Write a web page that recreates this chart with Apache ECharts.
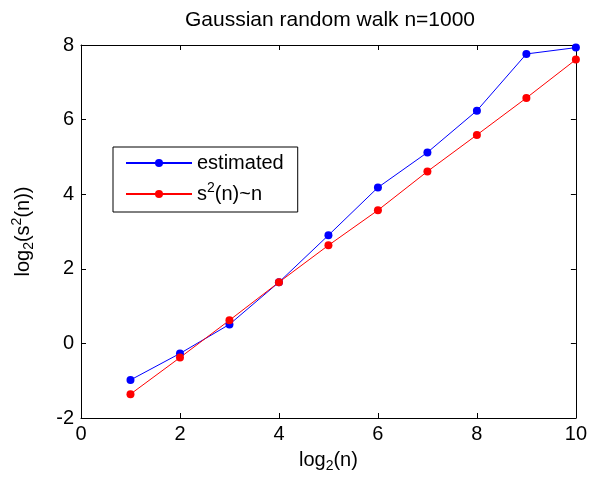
<!DOCTYPE html>
<html>
<head>
<meta charset="utf-8">
<script src="https://cdn.jsdelivr.net/npm/echarts@6/dist/echarts.min.js"></script>
<style>html,body{margin:0;padding:0;background:#fff}#c{width:590px;height:479px}</style>
</head>
<body>
<div id="c"></div>
<script>
var xValues = [1, 2, 3, 4, 5, 6, 7, 8, 9, 10];
var estimated = [-0.98, -0.27, 0.51, 1.64, 2.90, 4.18, 5.12, 6.24, 7.76, 7.93];
var theory = [-1.36, -0.38, 0.62, 1.64, 2.63, 3.57, 4.61, 5.59, 6.58, 7.61];
var seriesNames = ['estimated', 's2(n)~n'];
var titleText = 'Gaussian random walk n=1000';

function pairs(xs, ys) { return xs.map(function (x, i) { return [x, ys[i]]; }); }

var font = 'Arial, "Liberation Sans", sans-serif';
var FS = 20;
var rich = {
  a: { fontSize: FS, lineHeight: 26, fontFamily: font, color: '#000' },
  sub: { fontSize: 14, lineHeight: 12, verticalAlign: 'bottom', fontFamily: font, color: '#000' },
  sup: { fontSize: 14, lineHeight: 12, verticalAlign: 'top', fontFamily: font, color: '#000' }
};
function ax(extra) {
  return Object.assign({
    axisLine: { show: true, onZero: false, lineStyle: { color: '#000', width: 1 } },
    axisTick: { show: true, inside: true, length: 5, lineStyle: { color: '#000' } },
    splitLine: { show: false }
  }, extra);
}

var chart = echarts.init(document.getElementById('c'));
chart.setOption({
  animation: false,
  backgroundColor: '#fff',
  grid: { left: 81, right: 13, top: 45, bottom: 61, containLabel: false },
  graphic: [{
    type: 'text', x: 330, y: 20,
    style: { text: titleText, font: '21px ' + font, fill: '#000', align: 'center', verticalAlign: 'middle' }
  }],
  xAxis: [
    ax({ type: 'value', min: 0, max: 10, interval: 2, position: 'bottom',
      axisLabel: { color: '#000', fontSize: FS, fontFamily: font, margin: 6 },
      name: '{a|log}{sub|2}{a|(n)}', nameLocation: 'middle', nameGap: 29,
      nameTextStyle: { rich: rich } }),
    ax({ type: 'value', min: 0, max: 10, interval: 2, position: 'top', axisLabel: { show: false } })
  ],
  yAxis: [
    ax({ type: 'value', min: -2, max: 8, interval: 2, position: 'left',
      axisLabel: { color: '#000', fontSize: FS, fontFamily: font, margin: 7 },
      name: '{a|log}{sub|2}{a|(s}{sup|2}{a|(n))}', nameLocation: 'middle', nameGap: 45, nameRotate: 90,
      nameTextStyle: { rich: rich } }),
    ax({ type: 'value', min: -2, max: 8, interval: 2, position: 'right', axisLabel: { show: false } })
  ],
  legend: {
    orient: 'vertical', left: 113, top: 147,
    padding: [6, 14, 8, 12], itemGap: 8, itemWidth: 66, itemHeight: 10,
    borderColor: '#000', borderWidth: 1, backgroundColor: '#fff',
    data: seriesNames,
    formatter: function (n) { return n === 'estimated' ? '{a|estimated}' : '{a|s}{sup|2}{a|(n)~n}'; },
    textStyle: { rich: rich }
  },
  series: [
    { name: seriesNames[0], type: 'line', data: pairs(xValues, estimated), symbol: 'circle', symbolSize: 8,
      itemStyle: { color: '#0000ff' }, lineStyle: { color: '#0000ff', width: 1 } },
    { name: seriesNames[1], type: 'line', data: pairs(xValues, theory), symbol: 'circle', symbolSize: 8,
      itemStyle: { color: '#ff0000' }, lineStyle: { color: '#ff0000', width: 1 } }
  ]
});
</script>
</body>
</html>
